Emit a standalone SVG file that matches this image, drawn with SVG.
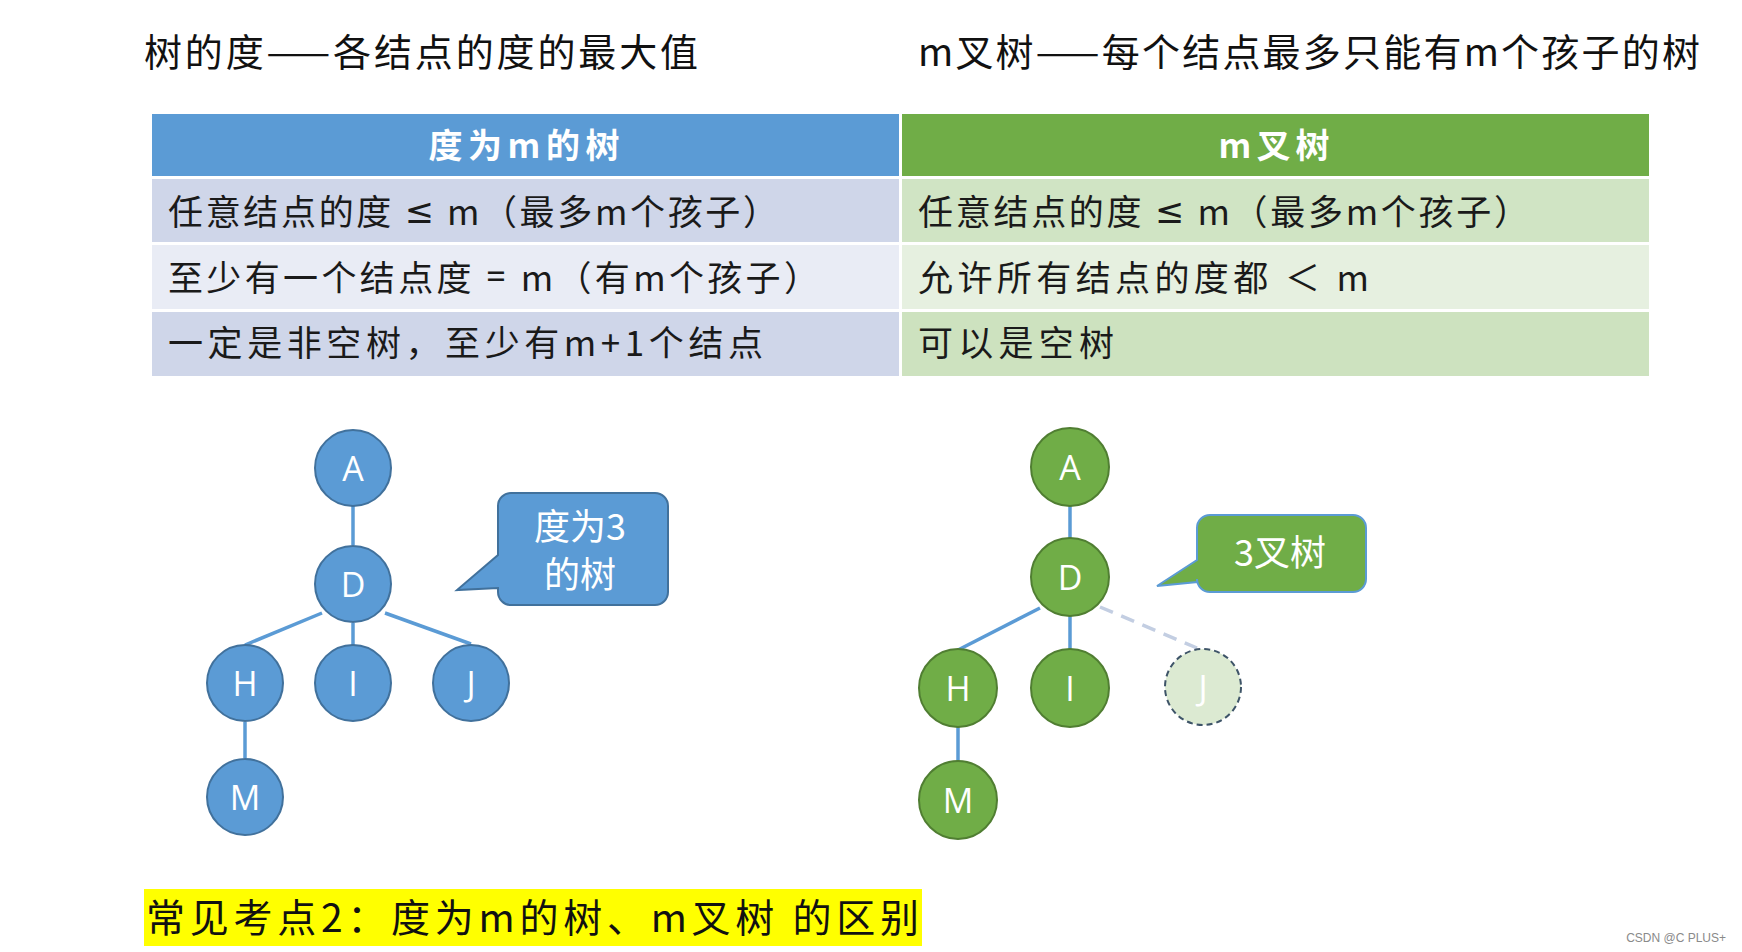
<svg xmlns="http://www.w3.org/2000/svg" width="1742" height="952" viewBox="0 0 1742 952">
<style>
  .cjk { font-family: "Noto Sans CJK SC", "Noto Sans", sans-serif; }
  .title { font-size: 38px; fill: #111; dominant-baseline: central; }
  .hdr { font-size: 34px; font-weight: bold; fill: #fff; dominant-baseline: central; text-anchor: middle; }
  .cell { font-size: 35px; fill: #1a1a1a; dominant-baseline: central; }
  .lat { font-family: "Noto Sans", "DejaVu Sans", sans-serif; }
  .bnode { fill: #5B9BD5; stroke: #41719C; stroke-width: 2; }
  .gnode { fill: #70AD47; stroke: #507E32; stroke-width: 2; }
  .lbl { font-family: "Open Sans", "Liberation Sans", sans-serif; font-size: 34px; fill: #fff; text-anchor: middle; dominant-baseline: central; }
  .edge { stroke: #5B9BD5; stroke-width: 3.5; fill: none; }
  .call { font-size: 36px; fill: #fff; text-anchor: middle; dominant-baseline: central; }
</style>
<rect width="1742" height="952" fill="#fff"/>

<g id="titles" class="cjk">
  <text class="title" x="144" y="49" textLength="554" lengthAdjust="spacing">树的度——各结点的度的最大值</text>
  <text class="title" x="918" y="49" textLength="782" lengthAdjust="spacing">m叉树——每个结点最多只能有m个孩子的树</text>
</g>

<g id="table" class="cjk">
  <rect x="152" y="114" width="747" height="62" fill="#5B9BD5"/>
  <rect x="902" y="114" width="747" height="62" fill="#70AD47"/>
  <rect x="152" y="179" width="747" height="63" fill="#CFD6E9"/>
  <rect x="902" y="179" width="747" height="63" fill="#D0E4C4"/>
  <rect x="152" y="245" width="747" height="64" fill="#E9ECF5"/>
  <rect x="902" y="245" width="747" height="64" fill="#E6F0E0"/>
  <rect x="152" y="312" width="747" height="64" fill="#CFD6E9"/>
  <rect x="902" y="312" width="747" height="64" fill="#CDE2BF"/>
  <text class="hdr" x="524" y="143" textLength="191" lengthAdjust="spacing">度为m的树</text>
  <text class="hdr" x="1274" y="143" textLength="111" lengthAdjust="spacing">m叉树</text>
  <text class="cell" x="168" y="209" textLength="610" lengthAdjust="spacing">任意结点的度 <tspan class="lat">≤</tspan> m（最多m个孩子）</text>
  <text class="cell" x="168" y="275" textLength="651" lengthAdjust="spacing">至少有一个结点度 <tspan class="lat">=</tspan> m（有m个孩子）</text>
  <text class="cell" x="168" y="340" textLength="595" lengthAdjust="spacing">一定是非空树，至少有m+1个结点</text>
  <text class="cell" x="918" y="209" textLength="611" lengthAdjust="spacing">任意结点的度 <tspan class="lat">≤</tspan> m（最多m个孩子）</text>
  <text class="cell" x="918" y="275" textLength="451" lengthAdjust="spacing">允许所有结点的度都 ＜ m</text>
  <text class="cell" x="918" y="340" textLength="196" lengthAdjust="spacing">可以是空树</text>
</g>

<g id="connectors">
  <line class="edge" x1="353" y1="505" x2="353" y2="545"/>
  <line class="edge" x1="322" y1="613" x2="245" y2="645"/>
  <line class="edge" x1="353" y1="623" x2="353" y2="645"/>
  <line class="edge" x1="385" y1="613" x2="471" y2="644"/>
  <line class="edge" x1="245" y1="722" x2="245" y2="758"/>
  <line class="edge" x1="1070" y1="505" x2="1070" y2="538"/>
  <line class="edge" x1="1040" y1="608" x2="958" y2="650"/>
  <line class="edge" x1="1070" y1="616" x2="1070" y2="649"/>
  <line x1="1100" y1="607" x2="1197" y2="648" stroke="#C3CEE2" stroke-width="3.5" stroke-dasharray="14 9"/>
  <line class="edge" x1="958" y1="727" x2="958" y2="761"/>
</g>

<g id="tree1">
  <g id="L-A"><circle class="bnode" cx="353" cy="468" r="38"/><text class="lbl" x="353" y="468">A</text></g>
  <g id="L-D"><circle class="bnode" cx="353" cy="584" r="38"/><text class="lbl" x="353" y="584">D</text></g>
  <g id="L-H"><circle class="bnode" cx="245" cy="683" r="38"/><text class="lbl" x="245" y="683">H</text></g>
  <g id="L-I"><circle class="bnode" cx="353" cy="683" r="38"/><text class="lbl" x="353" y="683">I</text></g>
  <g id="L-J"><circle class="bnode" cx="471" cy="683" r="38"/><text class="lbl" x="471" y="683">J</text></g>
  <g id="L-M"><circle class="bnode" cx="245" cy="797" r="38"/><text class="lbl" x="245" y="797">M</text></g>
</g>

<g id="callout1" class="cjk">
  <path d="M511,493 H655 A13,13 0 0 1 668,506 V592 A13,13 0 0 1 655,605 H511 A13,13 0 0 1 498,592 V588 L457,590 L498,555 V506 A13,13 0 0 1 511,493 Z" fill="#5B9BD5" stroke="#41719C" stroke-width="2"/>
  <text class="call" x="580" y="524">度为3</text>
  <text class="call" x="580" y="572">的树</text>
</g>

<g id="tree2">
  <g id="R-A"><circle class="gnode" cx="1070" cy="467" r="39"/><text class="lbl" x="1070" y="467">A</text></g>
  <g id="R-D"><circle class="gnode" cx="1070" cy="577" r="39"/><text class="lbl" x="1070" y="577">D</text></g>
  <g id="R-H"><circle class="gnode" cx="958" cy="688" r="39"/><text class="lbl" x="958" y="688">H</text></g>
  <g id="R-I"><circle class="gnode" cx="1070" cy="688" r="39"/><text class="lbl" x="1070" y="688">I</text></g>
  <g id="R-J"><circle cx="1203" cy="687" r="38" fill="#DCEAD2" stroke="#3E5468" stroke-width="2" stroke-dasharray="6 4"/><text class="lbl" x="1203" y="687">J</text></g>
  <g id="R-M"><circle class="gnode" cx="958" cy="800" r="39"/><text class="lbl" x="958" y="800">M</text></g>
</g>

<g id="callout2" class="cjk">
  <path d="M1210,515 H1353 A13,13 0 0 1 1366,528 V579 A13,13 0 0 1 1353,592 H1210 A13,13 0 0 1 1197,579 V582 L1157,586 L1197,560 V528 A13,13 0 0 1 1210,515 Z" fill="#70AD47" stroke="#5B9BD5" stroke-width="2"/>
  <text class="call" x="1280" y="550">3叉树</text>
</g>

<g id="footer" class="cjk">
  <rect x="144" y="889" width="778" height="57" fill="#FFFF00"/>
  <text x="146" y="915" font-size="39" fill="#111" dominant-baseline="central" textLength="773" lengthAdjust="spacing">常见考点2：度为m的树、m叉树 的区别</text>
</g>

<text x="1726" y="938" font-family="Liberation Sans, Arial, sans-serif" font-size="12" fill="#8a8a8a" text-anchor="end" dominant-baseline="central">CSDN @C PLUS+</text>
</svg>
